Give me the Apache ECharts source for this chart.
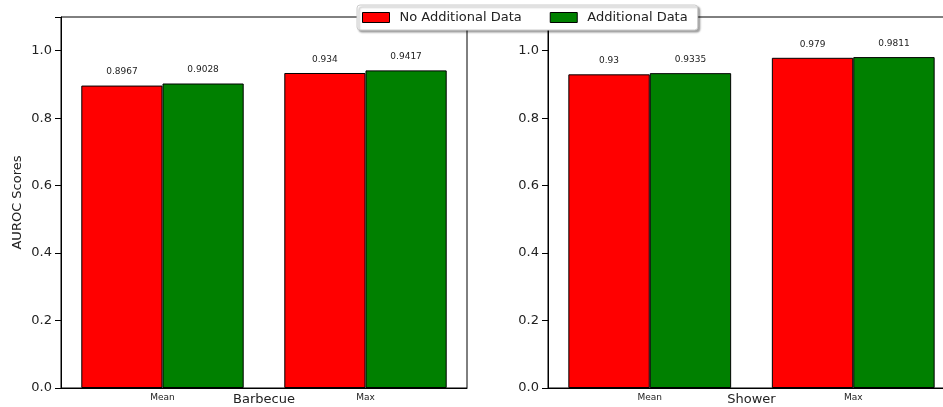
<!DOCTYPE html>
<html>
<head>
<meta charset="utf-8">
<script src="https://cdn.jsdelivr.net/npm/echarts@6/dist/echarts.min.js"></script>
<style>
  html, body { margin: 0; padding: 0; background: #fff; }
  #chart { width: 943px; height: 407px; }
</style>
</head>
<body>
<div id="chart"></div>
<script>
// AUROC scores per room, with and without the additional data
const categories = ['Mean', 'Max'];
const panels = ['Barbecue', 'Shower'];
const seriesNames = ['No Additional Data', 'Additional Data'];
const barbecueNoExtra = [0.8967, 0.934];
const barbecueExtra = [0.9028, 0.9417];
const showerNoExtra = [0.93, 0.979];
const showerExtra = [0.9335, 0.9811];
const yTicks = [0, 0.2, 0.4, 0.6, 0.8, 1.0];

const FONT = 'DejaVu Sans';
const colors = ['#ff0000', '#008000'];

const chart = echarts.init(document.getElementById('chart'), null, { renderer: 'canvas' });

function makeSeries(name, data, idx, color) {
  return {
    name: name,
    type: 'bar',
    xAxisIndex: idx,
    yAxisIndex: idx,
    data: data,
    barWidth: '40%',
    barGap: '0%',
    itemStyle: { color: color, borderColor: '#000', borderWidth: 1 },
    label: {
      show: true,
      position: 'top',
      distance: 9,
      fontFamily: FONT,
      fontSize: 9,
      color: '#222',
      formatter: p => String(p.value)
    },
    emphasis: { disabled: true },
    animation: false
  };
}

function xAxis(idx, title) {
  return {
    type: 'category',
    gridIndex: idx,
    data: categories,
    name: title,
    nameLocation: 'middle',
    nameGap: 5,
    nameMoveOverlap: false,
    nameTextStyle: { fontFamily: FONT, fontSize: 13, color: '#222', verticalAlign: 'top' },
    axisLine: { lineStyle: { color: '#000', width: 1 } },
    axisTick: { show: false },
    axisLabel: { fontFamily: FONT, fontSize: 9, color: '#222', margin: 5 },
    splitLine: { show: false }
  };
}

function yAxis(idx, title) {
  return {
    type: 'value',
    gridIndex: idx,
    min: 0,
    max: 1.1,
    interval: 0.2,
    name: title,
    nameLocation: 'middle',
    nameGap: 37,
    nameMoveOverlap: false,
    nameTextStyle: { fontFamily: FONT, fontSize: 13, color: '#222' },
    axisLine: { show: true, lineStyle: { color: '#000', width: 1 } },
    axisTick: { show: true, length: 6, inside: false, lineStyle: { color: '#000' } },
    axisLabel: {
      fontFamily: FONT, fontSize: 13, color: '#222', margin: 9,
      formatter: v => (yTicks.some(t => Math.abs(t - v) < 1e-9) ? v.toFixed(1) : '')
    },
    splitLine: { show: false }
  };
}

const option = {
  backgroundColor: '#fff',
  animation: false,
  grid: [
    { left: 61, top: 17, width: 406, height: 371, outerBoundsMode: 'none', containLabel: false,
      show: true, borderColor: '#000', borderWidth: 1, backgroundColor: 'transparent' },
    { left: 548, top: 17, width: 407, height: 371, outerBoundsMode: 'none', containLabel: false,
      show: true, borderColor: '#000', borderWidth: 1, backgroundColor: 'transparent' }
  ],
  legend: {
    data: seriesNames,
    left: 357,
    top: 5,
    icon: 'rect',
    itemWidth: 27,
    itemHeight: 10,
    itemGap: 28,
    padding: [6, 10, 6, 5],
    backgroundColor: '#fff',
    borderColor: '#cccccc',
    borderWidth: 1,
    borderRadius: 3,
    shadowColor: 'rgba(0,0,0,0.35)',
    shadowBlur: 2,
    shadowOffsetX: 2,
    shadowOffsetY: 2,
    itemStyle: { borderColor: '#000', borderWidth: 1 },
    textStyle: { fontFamily: FONT, fontSize: 13, color: '#222', padding: [0, 0, 0, 5] },
    selectedMode: false
  },
  xAxis: [xAxis(0, panels[0]), xAxis(1, panels[1])],
  yAxis: [yAxis(0, 'AUROC Scores'), yAxis(1, '')],
  series: [
    makeSeries(seriesNames[0], barbecueNoExtra, 0, colors[0]),
    makeSeries(seriesNames[1], barbecueExtra, 0, colors[1]),
    makeSeries(seriesNames[0], showerNoExtra, 1, colors[0]),
    makeSeries(seriesNames[1], showerExtra, 1, colors[1])
  ]
};

chart.setOption(option);
</script>
</body>
</html>
